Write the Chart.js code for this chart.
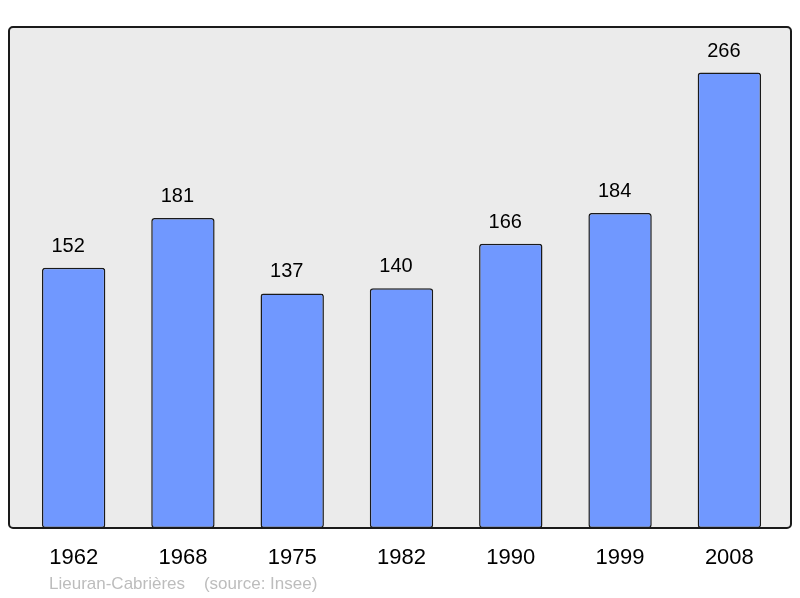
<!DOCTYPE html>
<html>
<head>
<meta charset="utf-8">
<script src="https://cdn.jsdelivr.net/npm/chart.js@4/dist/chart.umd.min.js"></script>
<style>
html,body{margin:0;padding:0;background:#fff;}
canvas{display:block;}
</style>
</head>
<body>
<canvas id="c" width="800" height="598"></canvas>
<script>
const years = ['1962','1968','1975','1982','1990','1999','2008'];
const population = [152,181,137,140,166,184,266];
const footnote = 'Lieuran-Cabrières    (source: Insee)';

const FONT = '"Liberation Sans", Arial, sans-serif';

const framePlugin = {
  id: 'frame',
  beforeDraw(chart) {
    const {ctx, chartArea} = chart;
    const x0 = 9, x1 = 791, y0 = chartArea.top, y1 = chartArea.bottom;
    ctx.save();
    ctx.beginPath();
    ctx.roundRect(x0, y0, x1 - x0, y1 - y0, 4);
    ctx.fillStyle = '#ebebeb';
    ctx.fill();
    ctx.restore();
  },
  afterDatasetsDraw(chart) {
    const {ctx, chartArea} = chart;
    const x0 = 9, x1 = 791, y0 = chartArea.top, y1 = chartArea.bottom;
    ctx.save();
    ctx.beginPath();
    ctx.roundRect(x0, y0, x1 - x0, y1 - y0, 4);
    ctx.lineWidth = 2;
    ctx.strokeStyle = '#1a1a1a';
    ctx.stroke();
    // value labels
    const meta = chart.getDatasetMeta(0);
    ctx.fillStyle = '#000';
    ctx.font = '20px ' + FONT;
    ctx.textAlign = 'center';
    ctx.textBaseline = 'middle';
    meta.data.forEach((bar, i) => {
      ctx.fillText(String(chart.data.datasets[0].data[i]), bar.x - 5.5, bar.y - 21.5);
    });
    // footnote
    ctx.fillStyle = '#bdbdbd';
    ctx.font = '17px ' + FONT;
    ctx.textAlign = 'left';
    ctx.fillText(footnote, 49, 584);
    ctx.restore();
  }
};

new Chart(document.getElementById('c'), {
  type: 'bar',
  data: {
    labels: years,
    datasets: [{
      data: population,
      backgroundColor: '#7098ff',
      borderColor: '#1a1a1a',
      borderWidth: 1.5,
      borderRadius: 3,
      borderSkipped: false,
      categoryPercentage: 1,
      barPercentage: 0.58
    }]
  },
  options: {
    responsive: false,
    animation: false,
    layout: { padding: { left: 19, right: 16, top: 27, bottom: 30 } },
    plugins: { legend: { display: false }, tooltip: { enabled: false } },
    scales: {
      x: {
        grid: { display: false, drawTicks: false },
        border: { display: false },
        ticks: { color: '#000', font: { size: 22, family: FONT }, padding: 17, maxRotation: 0 },
        afterFit(scale) { scale.height = 40; }
      },
      y: {
        display: false,
        min: 0,
        max: 292.6
      }
    }
  },
  plugins: [framePlugin]
});
</script>
</body>
</html>
